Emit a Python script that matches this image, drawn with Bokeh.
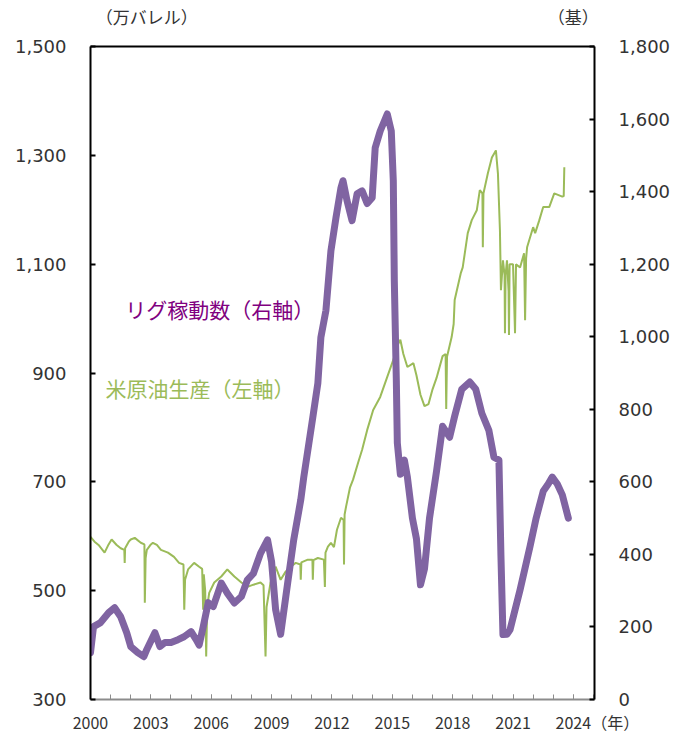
from bokeh.plotting import figure
from bokeh.models import Range1d, LinearAxis, FixedTicker, Label, NumeralTickFormatter
from bokeh.embed import file_html
from bokeh.resources import INLINE

# ---- data ----
# US crude oil production, 10k barrels/day (left axis)
prod_year = [2000.0, 2000.2, 2000.4, 2000.7, 2000.9, 2001.05, 2001.3, 2001.5, 2001.68, 2001.7,
             2001.72, 2001.9, 2002.0, 2002.2, 2002.5, 2002.68, 2002.7, 2002.74, 2002.8, 2003.0,
             2003.1, 2003.3, 2003.5, 2003.85, 2004.15, 2004.4, 2004.62, 2004.66, 2004.7, 2004.85,
             2005.15, 2005.4, 2005.55, 2005.6, 2005.63, 2005.7, 2005.75, 2005.8, 2005.9, 2006.15,
             2006.5, 2006.8, 2007.15, 2007.5, 2007.8, 2008.1, 2008.45, 2008.6, 2008.7, 2008.75,
             2008.95, 2009.2, 2009.45, 2009.7, 2009.95, 2010.2, 2010.43, 2010.45, 2010.48, 2010.8,
             2011.03, 2011.05, 2011.08, 2011.3, 2011.6, 2011.65, 2011.68, 2011.8, 2011.95, 2012.1,
             2012.25, 2012.45, 2012.58, 2012.6, 2012.63, 2012.7, 2012.9, 2013.05, 2013.3, 2013.5,
             2013.75, 2014.05, 2014.4, 2014.75, 2015.05, 2015.25, 2015.4, 2015.55, 2015.75, 2016.05,
             2016.2, 2016.4, 2016.6, 2016.8, 2017.0, 2017.2, 2017.5, 2017.65, 2017.68, 2017.72,
             2017.95, 2018.05, 2018.1, 2018.4, 2018.5, 2018.75, 2018.95, 2019.2, 2019.35, 2019.48,
             2019.5, 2019.53, 2019.75, 2019.95, 2020.15, 2020.25, 2020.35, 2020.4, 2020.5, 2020.58,
             2020.6, 2020.63, 2020.7, 2020.78, 2020.8, 2020.83, 2021.0, 2021.1, 2021.15, 2021.35,
             2021.55, 2021.6, 2021.65, 2021.7, 2022.0, 2022.1, 2022.3, 2022.5, 2022.8, 2023.05,
             2023.45, 2023.52, 2023.55]
prod_value = [599, 590, 584, 570, 585, 594, 584, 578, 575, 551,
              578, 590, 594, 597, 588, 585, 478, 560, 575, 585,
              588, 584, 575, 570, 562, 551, 548, 465, 520, 539,
              551, 544, 540, 465, 530, 500, 379, 470, 496, 515,
              526, 539, 526, 515, 507, 511, 515, 510, 379, 470,
              515, 544, 520, 535, 544, 551, 548, 520, 552, 557,
              557, 520, 556, 560, 557, 507, 570, 581, 588, 580,
              612, 634, 630, 548, 640, 654, 690, 704, 735, 759,
              795, 832, 856, 893, 924, 950, 961, 935, 911, 918,
              896, 860, 839, 843, 870, 891, 931, 935, 834, 930,
              966, 990, 1034, 1083, 1094, 1157, 1181, 1199, 1236, 1230,
              1131, 1230, 1267, 1296, 1309, 1267, 1162, 1052, 1107, 1080,
              973, 1080, 1107, 1050, 970, 1100, 1100, 973, 1100, 1094,
              1120, 997, 1110, 1131, 1168, 1157, 1180, 1205, 1205, 1230,
              1224, 1225, 1278]

# US oil rig count (right axis)
rig_year = [2000.0, 2000.15, 2000.5, 2000.9, 2001.2, 2001.5, 2001.8, 2002.0, 2002.35, 2002.65,
            2002.8, 2003.2, 2003.45, 2003.7, 2004.0, 2004.35, 2004.65, 2005.0, 2005.25, 2005.4,
            2005.6, 2005.85, 2006.1, 2006.5, 2006.8, 2007.15, 2007.5, 2007.8, 2008.1, 2008.45,
            2008.8, 2009.0, 2009.2, 2009.45, 2009.8, 2010.1, 2010.45, 2010.6, 2011.05, 2011.3,
            2011.45, 2011.7, 2011.95, 2012.2, 2012.45, 2012.55, 2012.75, 2013.0, 2013.25, 2013.5,
            2013.75, 2014.0, 2014.15, 2014.4, 2014.75, 2014.95, 2015.05, 2015.1, 2015.2, 2015.25,
            2015.4, 2015.6, 2015.75, 2016.0, 2016.2, 2016.4, 2016.6, 2016.85, 2017.2, 2017.5,
            2017.85, 2018.1, 2018.45, 2018.85, 2019.15, 2019.45, 2019.8, 2020.05, 2020.3, 2020.4,
            2020.5, 2020.7, 2020.85, 2021.35, 2021.85, 2022.15, 2022.5, 2022.75, 2022.95, 2023.2,
            2023.45, 2023.75]
rig_value = [129, 201, 212, 239, 253, 228, 184, 146, 129, 118,
             138, 184, 146, 157, 157, 165, 173, 187, 165, 150,
             200, 267, 256, 321, 293, 266, 284, 330, 348, 403,
             440, 380, 248, 180, 321, 440, 550, 613, 778, 872,
             998, 1072, 1237, 1328, 1411, 1430, 1375, 1320, 1394, 1402,
             1367, 1383, 1521, 1567, 1614, 1567, 1430, 1155, 880, 707,
             621, 660, 613, 500, 443, 316, 360, 500, 630, 753,
             723, 781, 855, 875, 855, 789, 742, 668, 660, 396,
             179, 180, 192, 302, 423, 500, 574, 594, 613, 594,
             564, 500]

year_ticks = [2000, 2003, 2006, 2009, 2012, 2015, 2018, 2021, 2024]
year_minor = list(range(2000, 2026))
left_ticks = [300, 500, 700, 900, 1100, 1300, 1500]
right_ticks = [0, 200, 400, 600, 800, 1000, 1200, 1400, 1600, 1800]

left_unit = "（万バレル）"
right_unit = "（基）"
x_unit = "（年）"
rig_label = "リグ稼動数（右軸）"
prod_label = "米原油生産（左軸）"

GREEN = "#9BBB59"
PURPLE = "#8064A2"
TEXT = "#333333"

p = figure(width=673, height=736, output_backend="svg", toolbar_location=None,
           x_range=Range1d(2000, 2025.05), y_range=Range1d(300, 1500),
           min_border_left=90, min_border_right=77, min_border_top=46, min_border_bottom=36)
p.extra_y_ranges = {"right": Range1d(0, 1800)}
p.outline_line_color = None
p.xgrid.visible = False
p.ygrid.visible = False
p.background_fill_color = "white"
p.border_fill_color = "white"

# bottom axis (the last year label carries the unit text at its right)
xa = p.xaxis[0]
xa.ticker = FixedTicker(ticks=year_ticks, minor_ticks=year_minor)
xa.formatter = NumeralTickFormatter(format="0")
xa.major_label_overrides = {2024: "\u3000\u3000\u3000" + "2024" + x_unit}
xa.axis_line_color = "#8C8C8C"
xa.axis_line_width = 2
xa.major_tick_line_color = "#8C8C8C"
xa.minor_tick_line_color = "#8C8C8C"
xa.major_tick_in = 5
xa.major_tick_out = 0
xa.minor_tick_in = 5
xa.minor_tick_out = 0
xa.major_label_text_font = "Noto Sans CJK JP"
xa.major_label_text_font_size = "16px"
xa.major_label_text_color = TEXT
xa.major_label_standoff = 10

# left axis
ya = p.yaxis[0]
ya.ticker = FixedTicker(ticks=left_ticks)
ya.formatter = NumeralTickFormatter(format="0,0")
ya.axis_line_color = "black"
ya.axis_line_width = 2
ya.major_tick_line_color = "black"
ya.major_tick_line_width = 2
ya.major_tick_in = 5
ya.major_tick_out = 0
ya.minor_tick_line_color = None
ya.major_label_text_font = "DejaVu Sans"
ya.major_label_text_font_size = "18px"
ya.major_label_text_color = TEXT
ya.major_label_standoff = 24

# right axis
ra = LinearAxis(y_range_name="right", ticker=FixedTicker(ticks=right_ticks),
                formatter=NumeralTickFormatter(format="0,0"))
ra.axis_line_color = "black"
ra.axis_line_width = 2
ra.major_tick_line_color = "black"
ra.major_tick_line_width = 2
ra.major_tick_in = 5
ra.major_tick_out = 0
ra.minor_tick_line_color = None
ra.major_label_text_font = "DejaVu Sans"
ra.major_label_text_font_size = "18px"
ra.major_label_text_color = TEXT
ra.major_label_standoff = 24
p.add_layout(ra, "right")

# top border line, carrying the two unit labels
ta = LinearAxis(ticker=FixedTicker(ticks=[2002.8, 2024]))
ta.major_label_overrides = {2002.8: left_unit, 2024: right_unit}
ta.axis_line_color = "black"
ta.axis_line_width = 2
ta.major_tick_line_color = None
ta.minor_tick_line_color = None
ta.major_label_text_font = "Noto Sans CJK JP"
ta.major_label_text_font_size = "17px"
ta.major_label_text_color = TEXT
ta.major_label_standoff = 12
p.add_layout(ta, "above")

# series
p.line(prod_year, prod_value, line_color=GREEN, line_width=2)
p.line(rig_year, rig_value, line_color=PURPLE, line_width=7, y_range_name="right",
       line_join="round", line_cap="round")

# series labels (inside the plot area)
p.add_layout(Label(x=2001.73, y=1017, text=rig_label, text_color="#800080",
                   text_font="Noto Sans CJK JP", text_font_size="21px",
                   text_align="left", text_baseline="middle"))
p.add_layout(Label(x=2000.74, y=872, text=prod_label, text_color=GREEN,
                   text_font="Noto Sans CJK JP", text_font_size="21px",
                   text_align="left", text_baseline="middle"))

open("out.html", "w").write(file_html(p, INLINE))
